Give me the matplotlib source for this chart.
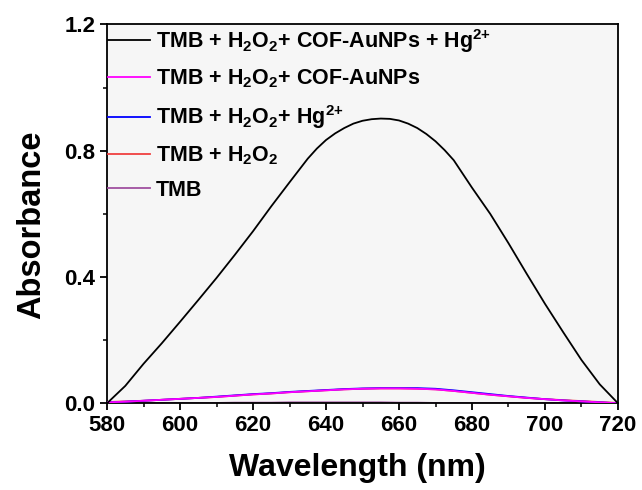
import numpy as np
import matplotlib
matplotlib.use("Agg")
import matplotlib.pyplot as plt
from matplotlib.ticker import MultipleLocator

plt.rcParams["font.family"] = ["Liberation Sans", "DejaVu Sans"]
plt.rcParams["font.weight"] = "bold"
plt.rcParams["mathtext.fontset"] = "custom"
plt.rcParams["mathtext.rm"] = "Liberation Sans:bold"
plt.rcParams["mathtext.it"] = "Liberation Sans:bold"
plt.rcParams["mathtext.bf"] = "Liberation Sans:bold"

# UV-vis spectra, wavelength in nm
wl_full = [580, 585, 590, 595, 600, 605, 610, 615, 620, 625, 630, 635, 637.5,
           640, 642.5, 645, 647.5, 650, 652.5, 655, 657.5, 660, 662.5, 665,
           667.5, 670, 672.5, 675, 680, 685, 690, 695, 700, 705, 710, 715, 720]
a_full = [0.0, 0.055, 0.125, 0.19, 0.258, 0.327, 0.397, 0.47, 0.545, 0.624,
          0.70, 0.775, 0.807, 0.834, 0.855, 0.872, 0.886, 0.895, 0.900, 0.902,
          0.901, 0.896, 0.886, 0.872, 0.853, 0.83, 0.802, 0.77, 0.683, 0.60,
          0.507, 0.41, 0.315, 0.225, 0.137, 0.06, 0.0]

wl = [580, 585, 590, 595, 600, 605, 610, 615, 620, 625, 630, 635, 640, 645,
      650, 655, 660, 665, 670, 675, 680, 685, 690, 695, 700, 705, 710, 715, 720]
a_cof = [0.003, 0.005, 0.008, 0.011, 0.014, 0.017, 0.020, 0.024, 0.028, 0.031,
         0.035, 0.038, 0.041, 0.044, 0.046, 0.047, 0.047, 0.046, 0.044, 0.039,
         0.033, 0.027, 0.022, 0.017, 0.013, 0.009, 0.006, 0.003, 0.0]
a_hg = [0.003, 0.005, 0.008, 0.011, 0.014, 0.017, 0.021, 0.025, 0.029, 0.032,
        0.036, 0.039, 0.042, 0.045, 0.047, 0.048, 0.048, 0.048, 0.046, 0.041,
        0.035, 0.029, 0.023, 0.018, 0.013, 0.009, 0.006, 0.003, 0.0]
a_h2o2 = [0.004, 0.006, 0.008, 0.011, 0.014, 0.017, 0.020, 0.024, 0.028, 0.031,
          0.035, 0.038, 0.041, 0.044, 0.046, 0.047, 0.047, 0.046, 0.044, 0.039,
          0.033, 0.027, 0.022, 0.017, 0.013, 0.010, 0.007, 0.004, 0.001]
a_tmb = [0.0, 0.0, 0.001, 0.001, 0.001, 0.001, 0.001, 0.002, 0.002, 0.002,
         0.003, 0.003, 0.003, 0.003, 0.003, 0.003, 0.002, 0.002, 0.001, 0.001,
         0.001, 0.001, 0.001, 0.001, 0.001, 0.001, 0.0, 0.0, 0.0]

labels = [r"TMB + H$_2$O$_2$+ COF-AuNPs + Hg$^{2{+}}$",
          r"TMB + H$_2$O$_2$+ COF-AuNPs",
          r"TMB + H$_2$O$_2$+ Hg$^{2{+}}$",
          r"TMB + H$_2$O$_2$",
          "TMB"]
colors = ["#000000", "#ff00ff", "#0000ff", "#f04040", "#a050a0"]

fig = plt.figure(figsize=(6.42, 4.9), dpi=100)
ax = fig.add_axes([0.1667, 0.177, 0.7959, 0.773])
ax.set_facecolor("#f6f6f6")

xs = [wl_full, wl, wl, wl, wl]
series = [a_full, a_cof, a_hg, a_h2o2, a_tmb]
zorders = [6, 5, 4, 3, 2]
handles = []
for x, y, c, lab, z in zip(xs, series, colors, labels, zorders):
    h, = ax.plot(x, y, color=c, lw=1.3, label=lab, zorder=z)
    handles.append(h)

ax.set_xlim(580, 720)
ax.set_ylim(0, 1.2)
ax.xaxis.set_major_locator(MultipleLocator(20))
ax.xaxis.set_minor_locator(MultipleLocator(10))
ax.yaxis.set_major_locator(MultipleLocator(0.4))
ax.yaxis.set_minor_locator(MultipleLocator(0.2))
ax.tick_params(which="major", direction="out", length=5, width=1.3,
               labelsize=16, pad=3.5, top=False, right=False)
ax.tick_params(which="minor", direction="out", length=3, width=1.1,
               top=False, right=False)
for s in ax.spines.values():
    s.set_linewidth(1.3)

ax.set_xlabel("Wavelength (nm)", fontsize=23, fontweight="bold")
ax.set_ylabel("Absorbance", fontsize=23.5, fontweight="bold")
ax.xaxis.set_label_coords(0.49, -0.13)
ax.yaxis.set_label_coords(-0.118, 0.47)

ax.legend(handles=handles, loc="upper left", bbox_to_anchor=(-0.006, 1.005),
          frameon=False, fontsize=15.5, handlelength=1.95, handletextpad=0.25,
          labelspacing=0.6, borderaxespad=0.0, borderpad=0.2)

fig.savefig("out.png", dpi=100)
